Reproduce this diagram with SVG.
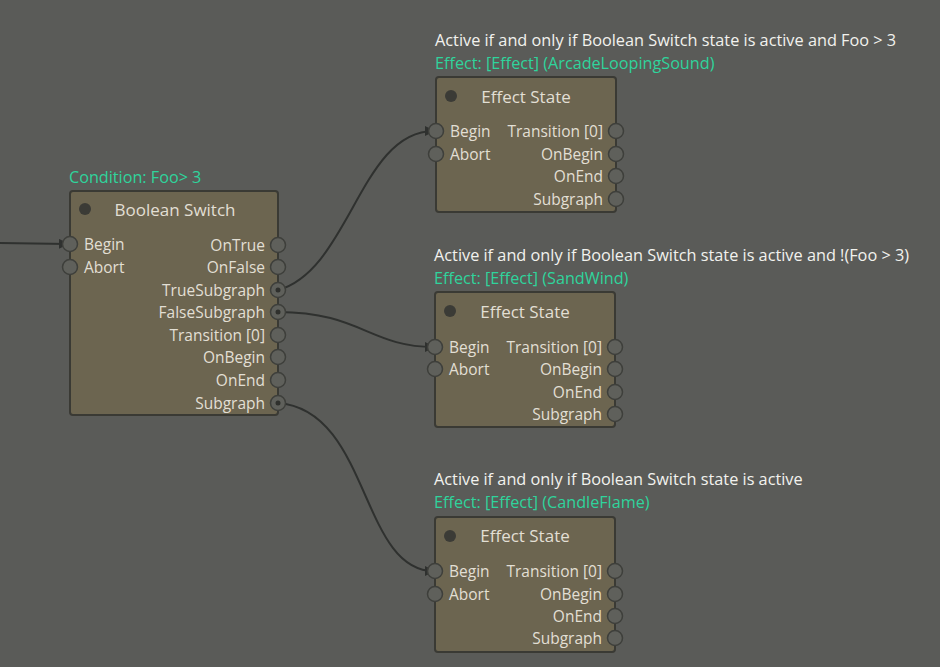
<svg xmlns="http://www.w3.org/2000/svg" width="940" height="667" viewBox="0 0 940 667">
<style>
.bg{fill:#5a5b58}
.node{fill:#6c6550;stroke:#3a3a34;stroke-width:2}
.t{font-family:"Open Sans","Noto Sans","DejaVu Sans",sans-serif;font-size:15.5px;fill:#e2dfd4}
.title{font-size:17px;text-anchor:middle}
.r{text-anchor:end}
.lbl{font-family:"Open Sans","Noto Sans","DejaVu Sans",sans-serif;font-size:16.3px;fill:#f2f2ee}
.g{font-family:"Open Sans","Noto Sans","DejaVu Sans",sans-serif;font-size:16.2px;fill:#2fd49c}
.port{fill:#5f605b;stroke:#3e3f3b;stroke-width:1.5}
.dot{fill:#2f302d}
.led{fill:#3b3b36}
.wire{fill:none;stroke:#2f312f;stroke-width:2}
</style>
<defs>
<marker id="arr" viewBox="0 0 10 10" refX="9" refY="5" markerWidth="5" markerHeight="5" orient="auto">
<path d="M0,0 L10,5 L0,10 z" fill="#2f312f"/>
</marker>
</defs>
<rect class="bg" x="0" y="0" width="940" height="667"/>

<g id="connectors">
<path class="wire" d="M0,243 L68,244" marker-end="url(#arr)"/>
<path class="wire" d="M278,290 C350,270 360,131 434,131" marker-end="url(#arr)"/>
<path class="wire" d="M278,312 C360,312 370,347 434,347" marker-end="url(#arr)"/>
<path class="wire" d="M278,403 C370,410 360,571 434,571" marker-end="url(#arr)"/>
</g>

<g id="boolean-switch">
<text class="g" x="69" y="183">Condition: Foo&gt; 3</text>
<rect class="node" x="70" y="191" width="208" height="224" rx="3"/>
<circle class="led" cx="85" cy="209" r="6"/>
<text class="t title" x="175" y="216">Boolean Switch</text>
<circle class="port" cx="70" cy="244" r="7.5"/>
<circle class="port" cx="70" cy="267" r="7.5"/>
<text class="t" x="84" y="250">Begin</text>
<text class="t" x="84" y="273">Abort</text>
<text class="t r" x="265" y="251">OnTrue</text>
<text class="t r" x="265" y="273">OnFalse</text>
<text class="t r" x="265" y="296">TrueSubgraph</text>
<text class="t r" x="265" y="318">FalseSubgraph</text>
<text class="t r" x="265" y="341">Transition [0]</text>
<text class="t r" x="265" y="363">OnBegin</text>
<text class="t r" x="265" y="386">OnEnd</text>
<text class="t r" x="265" y="409">Subgraph</text>
<circle class="port" cx="278" cy="245" r="7.5"/>
<circle class="port" cx="278" cy="267" r="7.5"/>
<circle class="port" cx="278" cy="290" r="7.5"/>
<circle class="dot" cx="278" cy="290" r="2.5"/>
<circle class="port" cx="278" cy="312" r="7.5"/>
<circle class="dot" cx="278" cy="312" r="2.5"/>
<circle class="port" cx="278" cy="335" r="7.5"/>
<circle class="port" cx="278" cy="357" r="7.5"/>
<circle class="port" cx="278" cy="380" r="7.5"/>
<circle class="port" cx="278" cy="403" r="7.5"/>
<circle class="dot" cx="278" cy="403" r="2.5"/>
</g>

<g id="effect-arcade">
<text class="lbl" x="435" y="46">Active if and only if Boolean Switch state is active and Foo &gt; 3</text>
<text class="g" x="435" y="69">Effect: [Effect] (ArcadeLoopingSound)</text>
<rect class="node" x="436" y="77" width="180" height="135" rx="3"/>
<circle class="led" cx="451" cy="96" r="6"/>
<text class="t title" x="526" y="103">Effect State</text>
<text class="t" x="450" y="137">Begin</text>
<text class="t" x="450" y="160">Abort</text>
<text class="t r" x="603" y="137">Transition [0]</text>
<text class="t r" x="603" y="160">OnBegin</text>
<text class="t r" x="603" y="182">OnEnd</text>
<text class="t r" x="603" y="205">Subgraph</text>
<circle class="port" cx="436" cy="131" r="7.5"/>
<circle class="port" cx="436" cy="154" r="7.5"/>
<circle class="port" cx="616" cy="131" r="7.5"/>
<circle class="port" cx="616" cy="154" r="7.5"/>
<circle class="port" cx="616" cy="176" r="7.5"/>
<circle class="port" cx="616" cy="199" r="7.5"/>
</g>

<g id="effect-sandwind">
<text class="lbl" x="434" y="261">Active if and only if Boolean Switch state is active and !(Foo &gt; 3)</text>
<text class="g" x="434" y="284">Effect: [Effect] (SandWind)</text>
<rect class="node" x="435" y="292" width="180" height="135" rx="3"/>
<circle class="led" cx="450" cy="311" r="6"/>
<text class="t title" x="525" y="318">Effect State</text>
<text class="t" x="449" y="353">Begin</text>
<text class="t" x="449" y="375">Abort</text>
<text class="t r" x="602" y="353">Transition [0]</text>
<text class="t r" x="602" y="375">OnBegin</text>
<text class="t r" x="602" y="398">OnEnd</text>
<text class="t r" x="602" y="420">Subgraph</text>
<circle class="port" cx="435" cy="347" r="7.5"/>
<circle class="port" cx="435" cy="369" r="7.5"/>
<circle class="port" cx="615" cy="347" r="7.5"/>
<circle class="port" cx="615" cy="369" r="7.5"/>
<circle class="port" cx="615" cy="392" r="7.5"/>
<circle class="port" cx="615" cy="414" r="7.5"/>
</g>

<g id="effect-candle">
<text class="lbl" x="434" y="485">Active if and only if Boolean Switch state is active</text>
<text class="g" x="434" y="508">Effect: [Effect] (CandleFlame)</text>
<rect class="node" x="435" y="517" width="180" height="135" rx="3"/>
<circle class="led" cx="450" cy="536" r="6"/>
<text class="t title" x="525" y="542">Effect State</text>
<text class="t" x="449" y="577">Begin</text>
<text class="t" x="449" y="600">Abort</text>
<text class="t r" x="602" y="577">Transition [0]</text>
<text class="t r" x="602" y="600">OnBegin</text>
<text class="t r" x="602" y="622">OnEnd</text>
<text class="t r" x="602" y="644">Subgraph</text>
<circle class="port" cx="435" cy="571" r="7.5"/>
<circle class="port" cx="435" cy="594" r="7.5"/>
<circle class="port" cx="615" cy="571" r="7.5"/>
<circle class="port" cx="615" cy="594" r="7.5"/>
<circle class="port" cx="615" cy="616" r="7.5"/>
<circle class="port" cx="615" cy="638" r="7.5"/>
</g>
</svg>
